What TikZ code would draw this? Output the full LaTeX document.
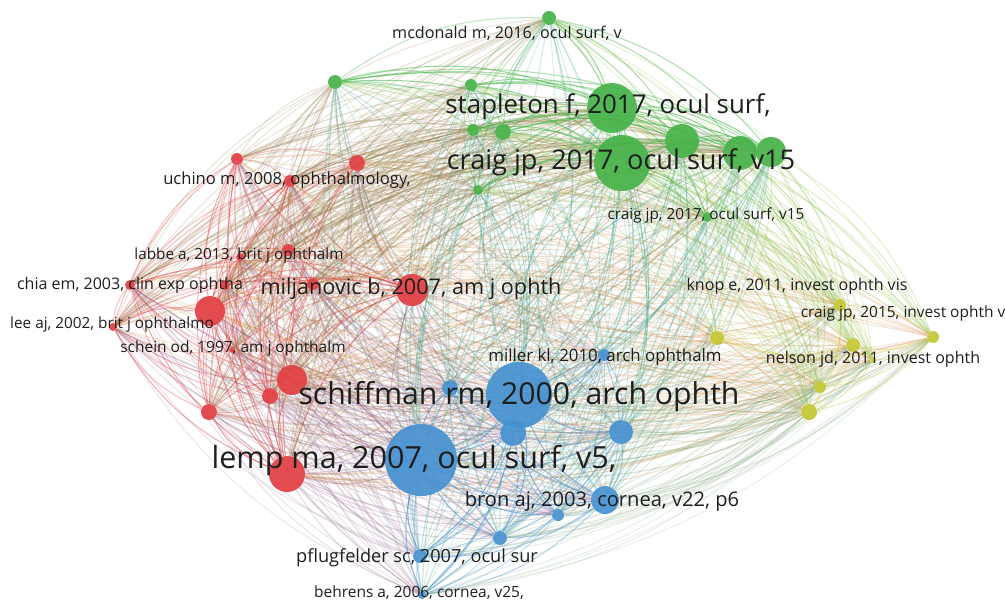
\documentclass[tikz,border=0pt]{standalone}
\usepackage{fontspec}
\setmainfont{Open Sans}
\usepackage{tikz}

\definecolor{cred}{RGB}{225,62,66}
\definecolor{cgreen}{RGB}{70,178,72}
\definecolor{cblue}{RGB}{70,145,208}
\definecolor{cyellow}{RGB}{196,200,50}
\definecolor{labelgray}{RGB}{30,30,30}

\pgfdeclarelayer{links}
\pgfsetlayers{links,main}

% name/x/y/radius/cluster, in pixels of the map
\def\maplist{r1/237/159/6/cred, r2/357/163/8/cred, r3/290/181/6/cred, r4/288/250/6/cred,
  r5/240/257/4/cred, r6/130/285/5/cred, r7/225/285/5/cred, r8/313/284/6/cred,
  r9/210/311/15/cred, r10/113/327/4/cred, r11/292/380/15/cred, r12/270/396/8/cred,
  r13/209/412/8/cred, r14/287/474/18/cred, r15/232/350/3/cred, r16/412/290/16/cred,
  g1/549/18/7/cgreen, g2/335/82/7/cgreen, g3/471/85/6/cgreen, g4/612/108/25/cgreen,
  g5/622/163/28/cgreen, g6/682/141/17/cgreen, g7/740/153/17/cgreen, g8/771/152/15/cgreen,
  g9/473/130/6/cgreen, g10/503/132/8/cgreen, g11/478/190/5/cgreen, g12/707/217/5/cgreen,
  b1/519/395/33/cblue, b2/421/460/36/cblue, b3/513/433/13/cblue, b4/621/432/12/cblue,
  b5/450/388/8/cblue, b6/605/500/14/cblue, b7/558/515/6/cblue, b8/500/538/7/cblue,
  b9/604/355/6/cblue, b10/420/556/7/cblue, b11/422/595/4/cblue,
  y1/717/338/7/cyellow, y2/840/305/6/cyellow, y3/853/345/7/cyellow, y4/933/337/6/cyellow,
  y5/820/387/6/cyellow, y6/809/412/8/cyellow, y7/873/360/3/cyellow}

\begin{document}
\begin{tikzpicture}[x=0.025cm,y=-0.025cm,
    item/.style={circle,inner sep=0pt,fill opacity=0.92},
    link/.style={line width=0.75pt},
    lbl/.style={font=\fontsize{#1}{#1}\selectfont,text=labelgray,inner sep=0pt}]
  \useasboundingbox (0,0) rectangle (1005,601);

  % items
  \foreach \na/\xa/\ya/\ra/\ca in \maplist
    \node[item,fill=\ca,minimum size=\ra*0.05cm] (\na) at (\xa,\ya) {};

  % co-citation links, mostly bent clockwise round the map
  \begin{pgfonlayer}{links}
  \foreach \na/\xa/\ya/\ra/\ca [count=\i] in \maplist {
    \foreach \nb/\xb/\yb/\rb/\cb [count=\j] in \maplist {
      \ifnum\i<\j
        \pgfmathsetmacro\aa{atan2(320-\ya,\xa-520)}
        \pgfmathsetmacro\ab{atan2(320-\yb,\xb-520)}
        \pgfmathsetmacro\dif{mod(\aa-\ab+720,360)}
        \pgfmathsetmacro\bend{\dif<145 ? 18 : (\dif>215 ? -18 : (mod(\i+\j,2)==0 ? 18 : -18))}
        \pgfmathsetmacro\op{min(0.6,0.2+(\ra+\rb)/100)}
        \ifx\ca\cb\else\pgfmathsetmacro\op{0.6*\op}\fi
        \draw[link,draw=\ca!50!\cb,opacity=\op] (\na) to[bend left=\bend] (\nb);
      \fi
    }
  }
  \end{pgfonlayer}

  % labels
  \node[lbl=11.5] (l1) at (507,33) {mcdonald m, 2016, ocul surf, v};
  \node[lbl=18.4] (l2) at (608,107) {stapleton f, 2017, ocul surf,};
  \node[lbl=19.3] (l3) at (621,162) {craig jp, 2017, ocul surf, v15};
  \node[lbl=10.9] (l4) at (706,215) {craig jp, 2017, ocul surf, v15};
  \node[lbl=11.8] (l5) at (287,180) {uchino m, 2008, ophthalmology,};
  \node[lbl=10.9] (l6) at (239,256) {labbe a, 2013, brit j ophthalm};
  \node[lbl=11.4] (l7) at (130,285) {chia em, 2003, clin exp ophtha};
  \node[lbl=15.4] (l8) at (411,289) {miljanovic b, 2007, am j ophth};
  \node[lbl=10.9] (l9) at (112,325) {lee aj, 2002, brit j ophthalmo};
  \node[lbl=11.0] (l10) at (233,348) {schein od, 1997, am j ophthalm};
  \node[lbl=21.5] (l11) at (519,397) {schiffman rm, 2000, arch ophth};
  \node[lbl=21.7] (l12) at (414,460) {lemp ma, 2007, ocul surf, v5,};
  \node[lbl=12.0] (l13) at (605,357) {miller kl, 2010, arch ophthalm};
  \node[lbl=14.3] (l14) at (602,501) {bron aj, 2003, cornea, v22, p6};
  \node[lbl=12.9] (l15) at (417,558) {pflugfelder sc, 2007, ocul sur};
  \node[lbl=11.0] (l16) at (419,593) {behrens a, 2006, cornea, v25,};
  \node[lbl=11.4] (l17) at (797,286) {knop e, 2011, invest ophth vis};
  \node[lbl=11.0] (l18) at (903,313) {craig jp, 2015, invest ophth v};
  \node[lbl=11.4] (l19) at (873,359) {nelson jd, 2011, invest ophth};
\end{tikzpicture}
\end{document}
